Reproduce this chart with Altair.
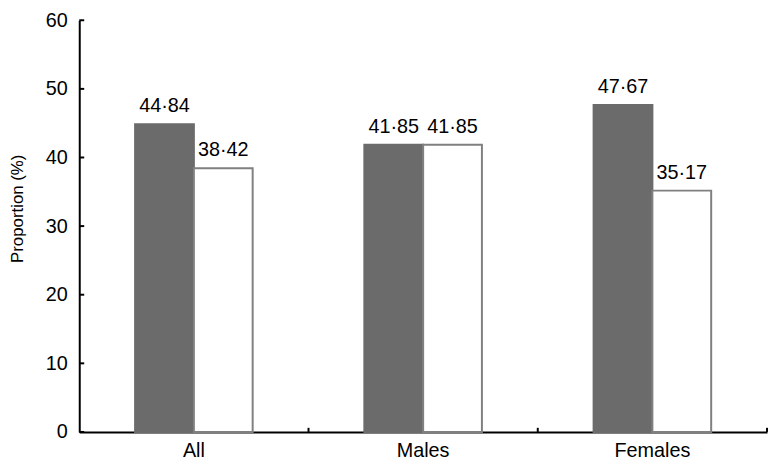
import altair as alt
import pandas as pd

categories = ["All", "Males", "Females"]
series = ["A", "B"]
values_a = [44.84, 41.85, 47.67]
values_b = [38.42, 41.85, 35.17]
labels_a = ["44·84", "41·85", "47·67"]
labels_b = ["38·42", "41·85", "35·17"]
y_ticks = [0, 10, 20, 30, 40, 50, 60]

rows = []
for i, c in enumerate(categories):
    rows.append(dict(cat=c, s="A", v=values_a[i], lab=labels_a[i]))
    rows.append(dict(cat=c, s="B", v=values_b[i], lab=labels_b[i]))
df = pd.DataFrame(rows)
cat_df = pd.DataFrame({"cat": categories})
ytick_df = pd.DataFrame({"v": y_ticks})

FONT = "Liberation Sans"

x_enc = alt.X(
    "cat:N", sort=categories,
    scale=alt.Scale(paddingInner=0, paddingOuter=0),
    axis=alt.Axis(title=None, ticks=False, tickSize=0, labelFontSize=20, labelFont=FONT,
                  labelColor="black", labelPadding=9, domainColor="black",
                  domainWidth=2, labelAngle=0),
)
xo = alt.XOffset("s:N", sort=series, scale=alt.Scale(paddingOuter=0.95, paddingInner=0))
y_enc = alt.Y(
    "v:Q", scale=alt.Scale(domain=[0, 60], nice=False),
    axis=alt.Axis(title="Proportion (%)", values=y_ticks, grid=False,
                  ticks=False, tickSize=0,
                  domainColor="black", domainWidth=2,
                  labelFontSize=20, labelFont=FONT, labelColor="black", labelPadding=12,
                  titleFontSize=17, titleFont=FONT, titleFontWeight="normal",
                  titleColor="black", titlePadding=19, titleY=190),
)

base = alt.Chart(df)
bars = base.mark_bar(strokeWidth=2).encode(
    x=x_enc, xOffset=xo, y=y_enc,
    color=alt.Color("s:N", sort=series, scale=alt.Scale(domain=series, range=["#6b6b6b", "#ffffff"]), legend=None),
    stroke=alt.Stroke("s:N", sort=series, scale=alt.Scale(domain=series, range=["#6b6b6b", "#808080"]), legend=None),
)
texts = base.mark_text(baseline="alphabetic", dy=-12, fontSize=20, font=FONT, color="black").encode(
    x=alt.X("cat:N", sort=categories), xOffset=xo, y="v:Q", text="lab:N",
)
xticks = alt.Chart(cat_df).mark_rule(color="black", strokeWidth=2).encode(
    x=alt.X("cat:N", sort=categories, bandPosition=1),
    y=alt.datum(0), y2=alt.datum(0.6),
)
yticks = alt.Chart(ytick_df).mark_rule(color="black", strokeWidth=2).encode(
    y="v:Q", x=alt.value(0), x2=alt.value(5),
)

chart = alt.layer(bars, texts, xticks, yticks).properties(
    width=695, height=416,
    autosize=alt.AutoSizeParams(type="none"),
    padding={"left": 72, "top": 10, "right": 2, "bottom": 30},
).configure_view(stroke=None)
chart.save("out.html", embed_options={"renderer": "svg", "actions": False})
